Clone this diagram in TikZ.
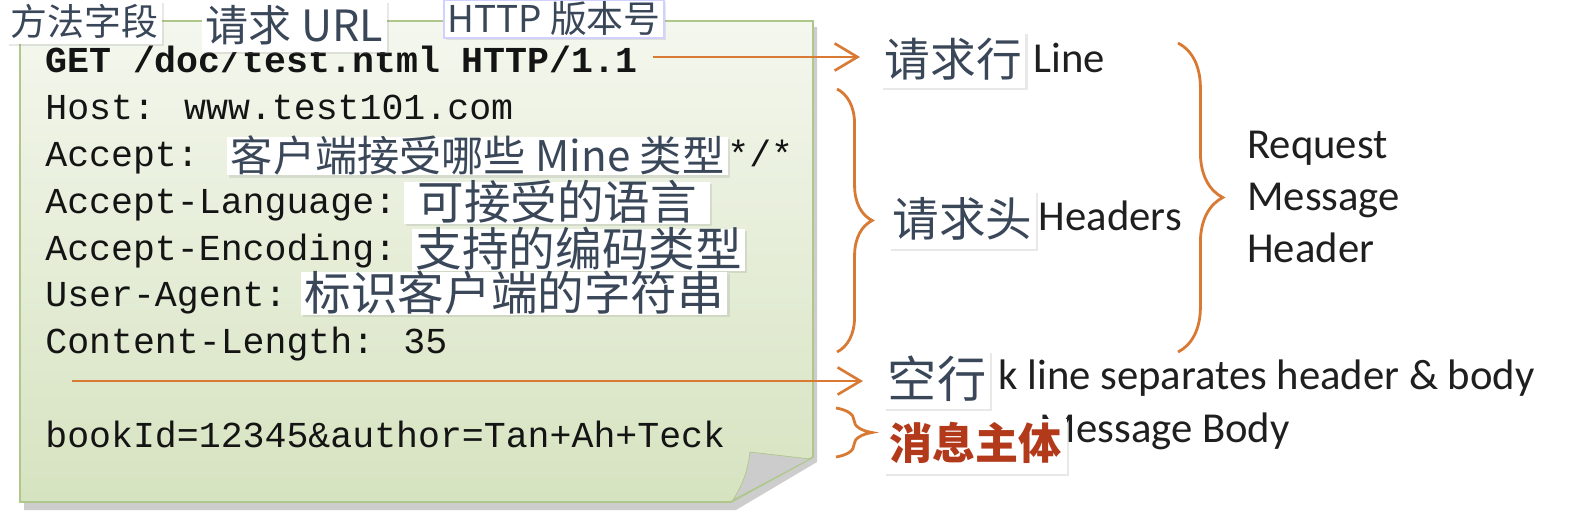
\documentclass[tikz,border=0pt]{standalone}
\usepackage{fontspec}
\setmainfont{Carlito}
\newfontfamily\monofont{Liberation Mono}
\newfontfamily\cjk{Noto Sans CJK SC}
\usetikzlibrary{positioning, arrows.meta, decorations.pathreplacing, shadows}
\definecolor{notetop}{HTML}{F4F7EE}
\definecolor{notebot}{HTML}{D6E3C0}
\definecolor{noteedge}{HTML}{AFC78A}
\definecolor{accent}{HTML}{D87A34}
\definecolor{tagink}{HTML}{3A4759}
\definecolor{bodyred}{HTML}{B3391B}
\tikzset{
	code/.style={anchor=base west, inner sep=0pt, text=black!92, font=\monofont\fontsize{20.8}{25}\selectfont},
	side/.style={inner sep=0pt, text=black!88, font=\fontsize{24.3}{29}\selectfont},
	tag/.style={anchor=west, fill=white, text=tagink, inner xsep=2pt, inner ysep=0.5pt, font=\cjk\fontsize{#1}{#1}\selectfont, text height=#1*0.8pt, text depth=#1*0.08pt, drop shadow={opacity=0.18, shadow xshift=1.2pt, shadow yshift=-1.2pt}},
	arr/.style={draw=accent, line width=1.5pt, -{Straight Barb[length=13pt, width=15.5pt, line width=1.5pt]}},
	brc/.style={draw=accent, line width=1.6pt, decorate, decoration={brace, amplitude=#1}},
}

\begin{document}
\begin{tikzpicture}[x=0.02cm, y=-0.02cm]
	\useasboundingbox (0,0) rectangle (1584,531);
	
	\fill[black!28, opacity=0.7] (24,27) -- (817,27) -- (817,462) -- (736,510) -- (24,510) -- cycle;
	\shadedraw[top color=notetop, bottom color=notebot, draw=noteedge, line width=1pt] (20,21) -- (813,21) -- (813,457) -- (731,502) -- (20,502) -- cycle;
	\filldraw[fill=black!20, draw=noteedge] (750,452) to[bend left=12] (733,500) -- (810,459) -- cycle;
	
	\node[code, font=\monofont\bfseries\fontsize{20.8}{25}\selectfont] (get) at (45,72) {GET /doc/test.ntml HTTP/1.1};
	\node[code] (host) at (45,119) {Host: www.test101.com};
	\node[code] (acc) at (45,166) {Accept:};
	\node[code] (star) at (727,166) {*/*};
	\node[code] (lang) at (45,213) {Accept-Language:};
	\node[code] (enc) at (45,260) {Accept-Encoding:};
	\node[code] (agent) at (45,306) {User-Agent:};
	\node[code] (clen) at (45,353) {Content-Length: 35};
	\node[code] (body) at (45,447) {bookId=12345\&author=Tan+Ah+Teck};
	
	\node[side, anchor=base west] (rl) at (1033,72) {Line};
	\node[side, anchor=base east] (rh) at (1182,230) {Headers};
	\node[side, anchor=base east] (bl) at (1535,389) {k line separates header \& body};
	\node[side, anchor=base east] (mb) at (1290,442) {Message Body};
	\node[side, anchor=base west] (req) at (1247,158) {Request};
	\node[side, anchor=base west] (msg) at ([yshift=-1.06cm]req.base west) {Message};
	\node[side, anchor=base west] (hdr) at ([yshift=-1.04cm]msg.base west) {Header};
	
	\coordinate (lineTip) at (860,57);
	\coordinate (gapL) at (72,381);
	\coordinate (gapR) at (863,381);
	\draw[arr, shorten <=8.5pt] (get.east |- lineTip) -- (lineTip);
	\draw[arr] (gapL) -- (gapR);
	
	\draw[brc=20pt] (837,89) -- (837,352);
	\draw[brc=25.5pt] (1178,43) -- (1178,352);
	\draw[brc=20.5pt] (836,408) -- (836,457);
	
	\node[tag=21, anchor=east, inner ysep=3pt] (tfield) at (162,22) {方法字段};
	\node[tag=24.5, inner ysep=3.7pt] (turl) at (202,26.5) {请求 URL};
	\node[tag=21, inner ysep=1.4pt, draw=blue!18, line width=1pt] (tver) at (443,19) {HTTP 版本号};
	\node[tag=24] (tmime) at (227,156) {客户端接受哪些 Mine 类型};
	\node[tag=26.5, inner xsep=3pt, minimum width=6.12cm] (tlang) at (404,203) {可接受的语言\hspace{12pt}};
	\node[tag=26.5] (tenc) at (412,250) {支持的编码类型};
	\node[tag=26.5] (tua) at (301,293.5) {标识客户端的字符串};
	\node[tag=26, inner ysep=4.6pt] (tline) at (881,60) {请求行};
	\node[tag=26.5, inner ysep=5pt] (thead) at (889,220) {请求头};
	\node[tag=28, inner ysep=4pt] (tblank) at (884,380) {空行};
	\node[tag=24.5, text=bodyred, font=\cjk\bfseries\fontsize{24.5}{24.5}\selectfont, inner xsep=3pt, inner ysep=6pt, text height=24.5*0.7pt] (tbody) at (884,446.5) {消息主体};
\end{tikzpicture}
\end{document}
